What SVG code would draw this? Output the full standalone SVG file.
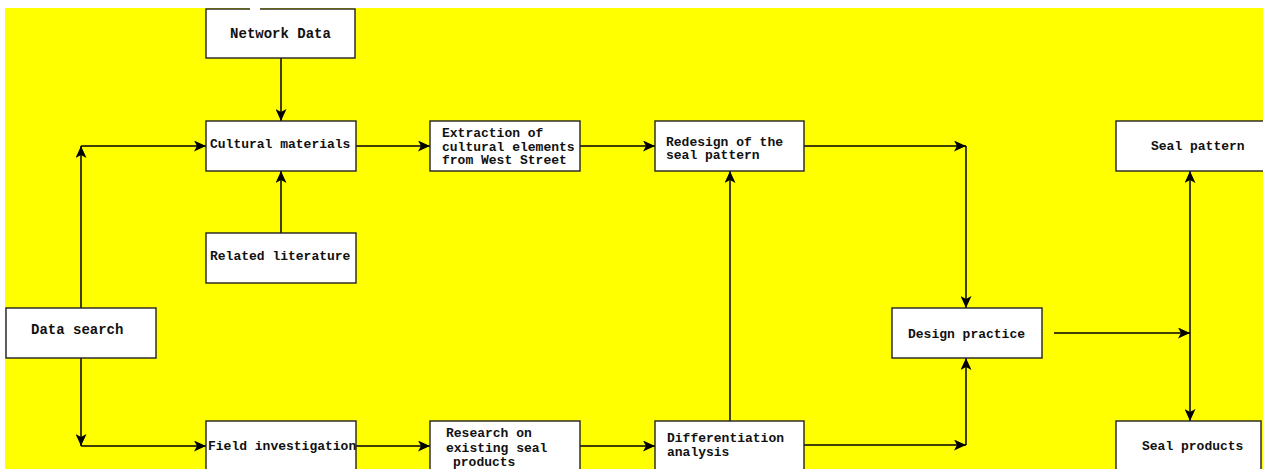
<svg xmlns="http://www.w3.org/2000/svg" width="1263" height="469" viewBox="0 0 1263 469">
<defs>
<style>
.box{fill:#fff;stroke:#222;stroke-width:1.4}
.t{font-family:"Liberation Mono","DejaVu Sans Mono",monospace;font-size:13px;font-weight:bold;fill:#111}
.c{fill:none;stroke:#000;stroke-width:1.5}
</style>
<marker id="ah" markerWidth="13" markerHeight="11" refX="12" refY="5.5" orient="auto" markerUnits="userSpaceOnUse">
<path d="M0,0 L12,5.5 L0,11 L3,5.5 Z" fill="#000"/>
</marker>
</defs>
<rect x="0" y="0" width="1263" height="469" fill="#fff"/>
<rect x="5" y="8" width="1258" height="461" fill="#ffff00"/>

<g id="connectors">
<path class="c" d="M281,58 V121" marker-end="url(#ah)"/>
<path class="c" d="M281,233 V171" marker-end="url(#ah)"/>
<path class="c" d="M81,308 V146" marker-end="url(#ah)"/>
<path class="c" d="M81,146 H206" marker-end="url(#ah)"/>
<path class="c" d="M81,358 V446" marker-end="url(#ah)"/>
<path class="c" d="M81,446 H206" marker-end="url(#ah)"/>
<path class="c" d="M356,146 H430" marker-end="url(#ah)"/>
<path class="c" d="M580,146 H655" marker-end="url(#ah)"/>
<path class="c" d="M804,146 H966" marker-end="url(#ah)"/>
<path class="c" d="M966,146 V308" marker-end="url(#ah)"/>
<path class="c" d="M356,446 H430" marker-end="url(#ah)"/>
<path class="c" d="M580,446 H655" marker-end="url(#ah)"/>
<path class="c" d="M730,421 V171" marker-end="url(#ah)"/>
<path class="c" d="M804,445 H966" marker-end="url(#ah)"/>
<path class="c" d="M966,445 V358" marker-end="url(#ah)"/>
<path class="c" d="M1054,333 H1190" marker-end="url(#ah)"/>
<path class="c" d="M1190,300 V171" marker-end="url(#ah)"/>
<path class="c" d="M1190,300 V421" marker-end="url(#ah)"/>
</g>

<g id="network-data">
<rect class="box" x="206" y="9" width="149" height="49"/>
<line x1="250" y1="9" x2="260" y2="9" stroke="#fff" stroke-width="2"/>
<text class="t" x="280.5" y="38" text-anchor="middle" style="font-size:14px">Network Data</text>
</g>
<g id="cultural-materials">
<rect class="box" x="206" y="121" width="150" height="50"/>
<text class="t" x="210" y="148">Cultural materials</text>
</g>
<g id="related-literature">
<rect class="box" x="206" y="233" width="150" height="50"/>
<text class="t" x="210" y="260">Related literature</text>
</g>
<g id="data-search">
<rect class="box" x="6" y="308" width="150" height="50"/>
<text class="t" x="31" y="334" style="font-size:14px">Data search</text>
</g>
<g id="field-investigation">
<rect class="box" x="206" y="421" width="150" height="52"/>
<text class="t" x="208" y="450">Field investigation</text>
</g>
<g id="extraction">
<rect class="box" x="430" y="121" width="150" height="50"/>
<text class="t" x="442" y="137">Extraction of</text>
<text class="t" x="442" y="151">cultural elements</text>
<text class="t" x="442" y="164">from West Street</text>
</g>
<g id="redesign">
<rect class="box" x="655" y="121" width="149" height="50"/>
<text class="t" x="666" y="146">Redesign of the</text>
<text class="t" x="666" y="159">seal pattern</text>
</g>
<g id="research">
<rect class="box" x="430" y="421" width="150" height="52"/>
<text class="t" x="446" y="437">Research on</text>
<text class="t" x="446" y="452">existing seal</text>
<text class="t" x="453" y="466">products</text>
</g>
<g id="differentiation">
<rect class="box" x="655" y="421" width="149" height="52"/>
<text class="t" x="667" y="442">Differentiation</text>
<text class="t" x="667" y="456">analysis</text>
</g>
<g id="design-practice">
<rect class="box" x="892" y="308" width="150" height="50"/>
<text class="t" x="908" y="338">Design practice</text>
</g>
<g id="seal-pattern">
<rect class="box" x="1116" y="121" width="150" height="50"/>
<text class="t" x="1151" y="150">Seal pattern</text>
</g>
<g id="seal-products">
<rect class="box" x="1116" y="421" width="145" height="52"/>
<text class="t" x="1142" y="450">Seal products</text>
</g>
</svg>
